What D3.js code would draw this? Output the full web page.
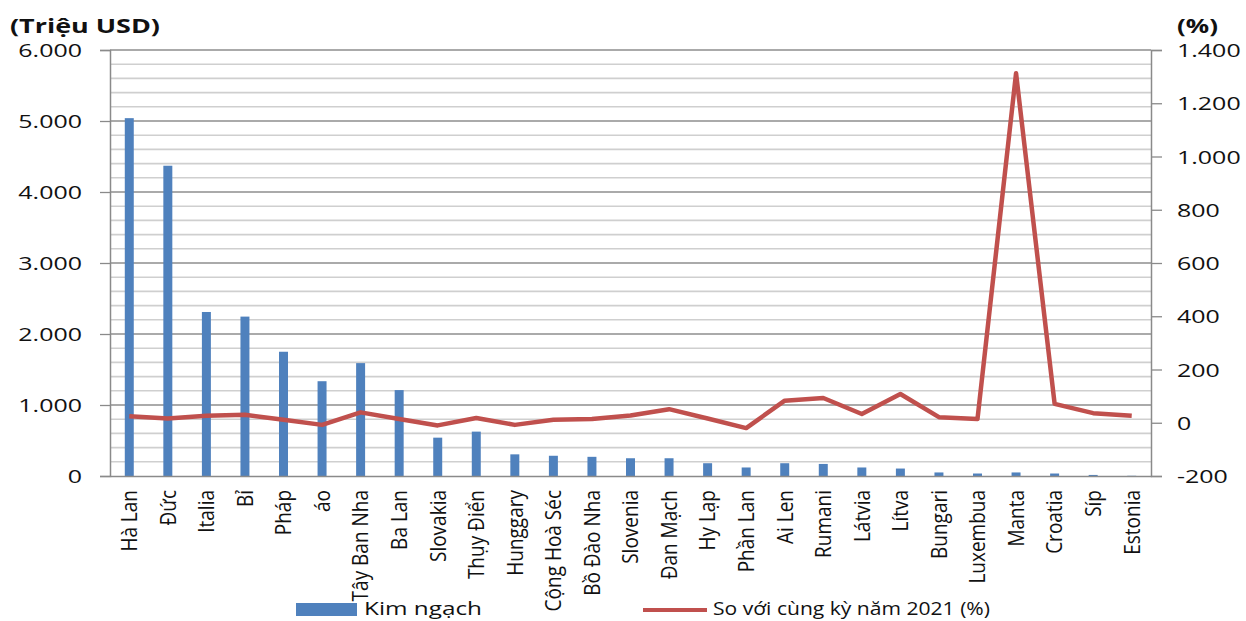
<!DOCTYPE html>
<html>
<head>
<meta charset="utf-8">
<script src="https://cdn.jsdelivr.net/npm/d3@7"></script>
<style>
  body { margin: 0; background: #fff; }
  svg { display: block; }
  text { font-family: "Open Sans", "Noto Sans", sans-serif; fill: #111; }
</style>
</head>
<body>
<svg id="chart" width="1246" height="621"></svg>
<script>
// Kim ngạch xuất khẩu sang các nước EU (triệu USD) và mức tăng so với cùng kỳ 2021 (%)
const categories = [
  "Hà Lan", "Đức", "Italia", "Bỉ", "Pháp", "áo", "Tây Ban Nha", "Ba Lan",
  "Slovakia", "Thụy Điển", "Hunggary", "Cộng Hoà Séc", "Bồ Đào Nha", "Slovenia",
  "Đan Mạch", "Hy Lạp", "Phần Lan", "Ai Len", "Rumani", "Látvia", "Lítva",
  "Bungari", "Luxembua", "Manta", "Croatia", "Síp", "Estonia"
];
const exportValues = [
  5040, 4370, 2310, 2245, 1750, 1335, 1590, 1210,
  540, 625, 305, 285, 270, 250,
  250, 180, 120, 180, 170, 120, 105,
  50, 35, 50, 35, 15, 3
];
const growthValues = [
  24, 16, 26, 30, 11, -8, 39, 14,
  -10, 18, -8, 11, 14, 27,
  51, 16, -20, 83, 93, 33, 108,
  21, 14, 1313, 71, 36, 26
];
const leftTickValues = [0, 1000, 2000, 3000, 4000, 5000, 6000];
const rightTickValues = [-200, 0, 200, 400, 600, 800, 1000, 1200, 1400];
const leftTitle = "(Triệu USD)";
const rightTitle = "(%)";
const barLegend = "Kim ngạch";
const lineLegend = "So với cùng kỳ năm 2021 (%)";

const BAR_COLOR = "#4F81BD";
const LINE_COLOR = "#C0504D";

const svg = d3.select("#chart");
svg.append("rect").attr("width", 1246).attr("height", 621).attr("fill", "#fff");

const plot = { left: 110, right: 1151, top: 50, bottom: 476 };

const x = d3.scaleBand()
  .domain(categories)
  .range([plot.left, plot.right])
  .paddingInner(0.767)
  .paddingOuter(0.3835);
const yL = d3.scaleLinear().domain([0, 6000]).range([plot.bottom, plot.top]);
const yR = d3.scaleLinear().domain([-200, 1400]).range([plot.bottom, plot.top]);

const vi = d3.formatLocale({ decimal: ",", thousands: ".", grouping: [3], currency: ["", ""], minus: "-" });
const fmt = vi.format(",");

// gridlines: light every 200, darker every 1000
const gridVals = d3.range(200, 6001, 200);
svg.append("g").selectAll("line")
  .data(gridVals)
  .join("line")
  .attr("x1", plot.left).attr("x2", plot.right)
  .attr("y1", d => yL(d)).attr("y2", d => yL(d))
  .attr("stroke", d => d % 1000 === 0 ? "#8e8e8e" : "#cfcfcf")
  .attr("stroke-width", d => d % 1000 === 0 ? 1.3 : 1.6);

// bars
svg.append("g").selectAll("rect")
  .data(categories.map((c, i) => ({ c, v: exportValues[i] })))
  .join("rect")
  .attr("x", d => x(d.c))
  .attr("width", x.bandwidth())
  .attr("y", d => yL(d.v))
  .attr("height", d => yL(0) - yL(d.v))
  .attr("fill", BAR_COLOR);

// left axis
const gL = svg.append("g")
  .attr("transform", `translate(${plot.left},0)`)
  .call(d3.axisLeft(yL).tickValues(leftTickValues).tickSize(10).tickFormat(fmt));
gL.select(".domain").attr("stroke", "#8a8a8a").attr("stroke-width", 1.5);
gL.selectAll(".tick line").attr("stroke", "#8a8a8a").attr("stroke-width", 1.3);
gL.selectAll(".tick text")
  .attr("x", 0).attr("dy", "0.36em")
  .attr("transform", "translate(-28,0) scale(1.35,1)")
  .style("font-size", "18.5px").attr("fill", "#111");

// right axis
const gR = svg.append("g")
  .attr("transform", `translate(${plot.right},0)`)
  .call(d3.axisRight(yR).tickValues(rightTickValues).tickSize(11).tickFormat(fmt));
gR.select(".domain").attr("stroke", "#8a8a8a").attr("stroke-width", 1.5);
gR.selectAll(".tick line").attr("stroke", "#8a8a8a").attr("stroke-width", 1.3);
gR.selectAll(".tick text")
  .attr("x", 0).attr("dy", "0.36em")
  .attr("transform", "translate(26,0) scale(1.35,1)")
  .style("font-size", "18.5px").attr("fill", "#111");

// category axis
const gB = svg.append("g")
  .attr("transform", `translate(0,${plot.bottom})`)
  .call(d3.axisBottom(x).tickSize(0));
gB.select(".domain").attr("stroke", "#8a8a8a").attr("stroke-width", 1.5);
gB.selectAll(".tick text")
  .attr("x", 0).attr("y", 0).attr("dy", "0.36em")
  .attr("text-anchor", "end")
  .attr("transform", "translate(0,14) rotate(-90) scale(1,1.15)")
  .style("font-size", "19px").attr("fill", "#111");

// growth line
const line = d3.line()
  .x((d, i) => x(categories[i]) + x.bandwidth() / 2)
  .y(d => yR(d));
svg.append("path")
  .datum(growthValues)
  .attr("d", line)
  .attr("fill", "none")
  .attr("stroke", LINE_COLOR)
  .attr("stroke-width", 4.5)
  .attr("stroke-linejoin", "round");

// axis titles
svg.append("text").text(leftTitle)
  .attr("x", 10).attr("y", 33)
  .attr("textLength", 150).attr("lengthAdjust", "spacingAndGlyphs")
  .style("font-size", "19px").style("font-weight", "bold");
svg.append("text").text(rightTitle)
  .attr("x", 1177).attr("y", 33)
  .attr("textLength", 41).attr("lengthAdjust", "spacingAndGlyphs")
  .style("font-size", "19px").style("font-weight", "bold");

// legend
const legend = svg.append("g");
legend.append("rect")
  .attr("x", 296).attr("y", 603).attr("width", 61).attr("height", 13)
  .attr("fill", BAR_COLOR);
legend.append("text").text(barLegend)
  .attr("x", 364).attr("y", 615)
  .attr("textLength", 118).attr("lengthAdjust", "spacingAndGlyphs")
  .style("font-size", "19px");
legend.append("line")
  .attr("x1", 643).attr("x2", 707).attr("y1", 610).attr("y2", 610)
  .attr("stroke", LINE_COLOR).attr("stroke-width", 4);
legend.append("text").text(lineLegend)
  .attr("x", 713).attr("y", 615)
  .attr("textLength", 277).attr("lengthAdjust", "spacingAndGlyphs")
  .style("font-size", "19px");
</script>
</body>
</html>
